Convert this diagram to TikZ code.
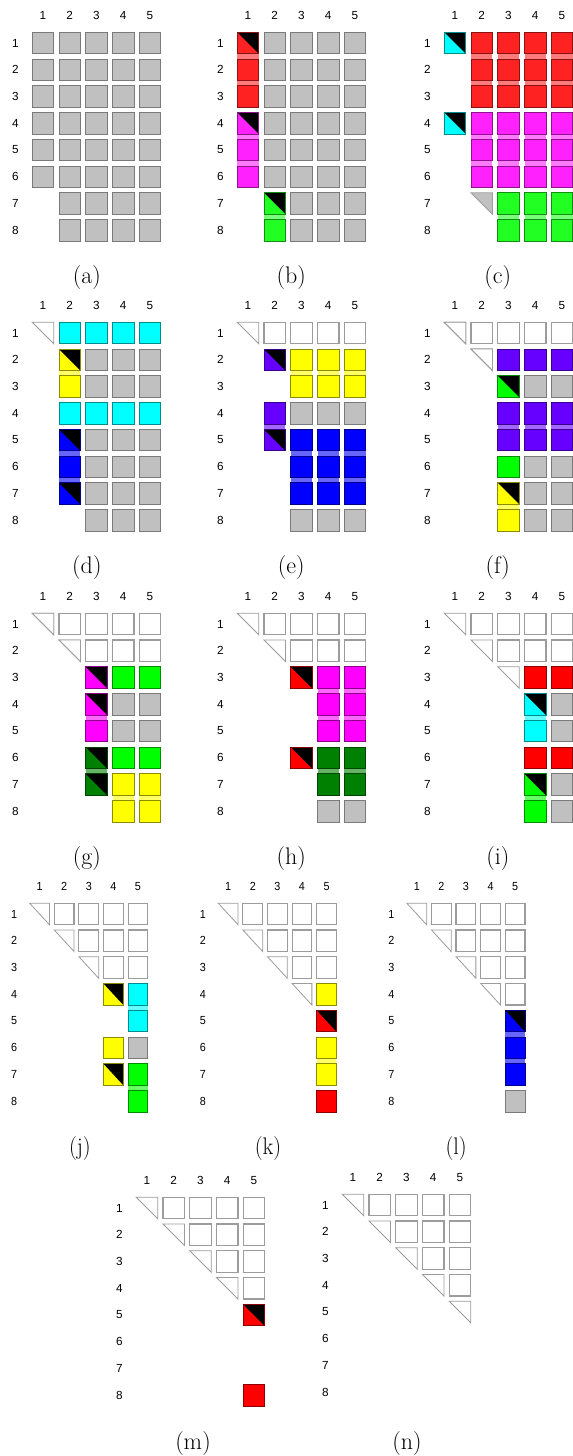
\documentclass[tikz,border=0pt]{standalone}
\usepackage{fontspec}
\newfontfamily\numfont{Liberation Sans}
\usepackage{xcolor}
\definecolor{boxgray}{HTML}{C0C0C0}
\definecolor{boxedge}{HTML}{7A7A7A}
\definecolor{emptyedge}{HTML}{9C9C9C}
\definecolor{redA}{HTML}{FF2222}
\definecolor{redB}{HTML}{FF0000}
\definecolor{magA}{HTML}{FF22FF}
\definecolor{magB}{HTML}{FF00FF}
\definecolor{greenA}{HTML}{22FF22}
\definecolor{greenB}{HTML}{00FF00}
\definecolor{cyanC}{HTML}{00FFFF}
\definecolor{yellowC}{HTML}{FFFF00}
\definecolor{blueC}{HTML}{0000FF}
\definecolor{purpleC}{HTML}{6600FF}
\definecolor{dgreen}{HTML}{008000}
\usepackage{tikz}
\tikzset{
    panel/.style n args={2}{shift={(#1+16.25,#2+16.25)}, x=20.0625pt, y=-20.0625pt},
    slot/.style={minimum size=16.125pt, inner sep=0pt, outer sep=0pt},
    graybox/.style={slot, draw=boxedge, fill=boxgray, line width=0.7pt},
    whitebox/.style={slot, draw=emptyedge, fill=white, line width=0.9pt},
    colbox/.style={slot, draw=#1!55!black, fill=#1, line width=0.7pt},
    pivot/.style={colbox=#1, path picture={\fill[black] (path picture bounding box.north west) -- (path picture bounding box.north east) -- (path picture bounding box.south east) -- cycle;}},
    triline/.style={draw=emptyedge, line width=0.6pt},
    numlab/.style={font=\numfont\fontsize{8.8}{10}\selectfont, inner sep=0pt},
    subcap/.style={font=\fontsize{18}{20}\selectfont, inner sep=0pt}
}
% joined cells of one column
\newcommand{\band}[4]{\fill[#4!60!white] ({#1-0.4},{#2-0.4}) rectangle ({#1+0.4},{#3+0.4});}
% half cell: name, col, row, fill
\newcommand{\tri}[4]{\node[slot] (#1) at (#2,#3) {};
  \filldraw[triline, fill=#4] (#1.north west) -- (#1.north east) -- (#1.south east) -- cycle;}
% column and row numbers
\newcommand{\labels}[1]{%
  \foreach \k in {1,...,5} \node[numlab] (#1-c\k) at (\k,-0.03) {\k};
  \foreach \k in {1,...,8} \node[numlab] (#1-r\k) at (-0.03,\k) {\k};}
% finished rows on top
\newcommand{\stair}[2]{%
  \foreach \ri in {1,...,#2} {
    \tri{#1-\ri-\ri}{\ri}{\ri}{white}
    \foreach \ci in {\ri,...,5} {\ifnum\ci>\ri\relax \node[whitebox] (#1-\ri-\ci) at (\ci,\ri) {};\fi}
  }}

\begin{document}
\begin{tikzpicture}[x=0.75pt, y=-0.75pt]
  \useasboundingbox (0,0) rectangle (573,1456);

  % (a)
  \begin{scope}[panel={0}{0}]
    \labels{a}
    \foreach \ri in {1,...,6} \foreach \ci in {1,...,5} \node[graybox] (a-\ri-\ci) at (\ci,\ri) {};
    \foreach \ri in {7,8} \foreach \ci in {2,...,5} \node[graybox] (a-\ri-\ci) at (\ci,\ri) {};
    \node[subcap] (cap-a) at (2.64,9.75) {(a)};
  \end{scope}

  % (b)
  \begin{scope}[panel={205}{0}]
    \labels{b}
    \band{1}{1}{3}{redA} \band{1}{4}{6}{magA} \band{2}{7}{8}{greenA}
    \node[pivot=redA] (b-1-1) at (1,1) {};
    \foreach \ri in {2,3} \node[colbox=redA] (b-\ri-1) at (1,\ri) {};
    \node[pivot=magA] (b-4-1) at (1,4) {};
    \foreach \ri in {5,6} \node[colbox=magA] (b-\ri-1) at (1,\ri) {};
    \foreach \ri in {1,...,6} \node[graybox] (b-\ri-2) at (2,\ri) {};
    \node[pivot=greenA] (b-7-2) at (2,7) {};
    \node[colbox=greenA] (b-8-2) at (2,8) {};
    \foreach \ri in {1,...,8} \foreach \ci in {3,4,5} \node[graybox] (b-\ri-\ci) at (\ci,\ri) {};
    \node[subcap] (cap-b) at (2.62,9.75) {(b)};
  \end{scope}

  % (c)
  \begin{scope}[panel={412}{0}]
    \labels{c}
    \foreach \ci in {2,...,5} {\band{\ci}{1}{3}{redA} \band{\ci}{4}{6}{magA}}
    \foreach \ci in {3,4,5} \band{\ci}{7}{8}{greenA}
    \node[pivot=cyanC] (c-1-1) at (1,1) {};
    \node[pivot=cyanC] (c-4-1) at (1,4) {};
    \foreach \ci in {2,...,5} {
      \foreach \ri in {1,2,3} \node[colbox=redA] (c-\ri-\ci) at (\ci,\ri) {};
      \foreach \ri in {4,5,6} \node[colbox=magA] (c-\ri-\ci) at (\ci,\ri) {};
    }
    \tri{c-7-2}{2}{7}{boxgray}
    \foreach \ci in {3,4,5} \foreach \ri in {7,8} \node[colbox=greenA] (c-\ri-\ci) at (\ci,\ri) {};
    \node[subcap] (cap-c) at (2.6,9.75) {(c)};
  \end{scope}

  % (d)
  \begin{scope}[panel={0}{290}]
    \labels{d}
    \band{2}{2}{3}{yellowC} \band{2}{5}{7}{blueC}
    \tri{d-1-1}{1}{1}{white}
    \foreach \ci in {2,...,5} {\node[colbox=cyanC] (d-1-\ci) at (\ci,1) {}; \node[colbox=cyanC] (d-4-\ci) at (\ci,4) {};}
    \node[pivot=yellowC] (d-2-2) at (2,2) {};
    \node[colbox=yellowC] (d-3-2) at (2,3) {};
    \node[pivot=blueC] (d-5-2) at (2,5) {};
    \node[colbox=blueC] (d-6-2) at (2,6) {};
    \node[pivot=blueC] (d-7-2) at (2,7) {};
    \foreach \ci in {3,4,5} \foreach \ri in {2,3,5,6,7,8} \node[graybox] (d-\ri-\ci) at (\ci,\ri) {};
    \node[subcap] (cap-d) at (2.64,9.75) {(d)};
  \end{scope}

  % (e)
  \begin{scope}[panel={205}{290}]
    \labels{e}
    \band{2}{4}{5}{purpleC}
    \foreach \ci in {3,4,5} {\band{\ci}{2}{3}{yellowC} \band{\ci}{5}{7}{blueC}}
    \stair{e}{1}
    \node[pivot=purpleC] (e-2-2) at (2,2) {};
    \node[colbox=purpleC] (e-4-2) at (2,4) {};
    \node[pivot=purpleC] (e-5-2) at (2,5) {};
    \foreach \ci in {3,4,5} {
      \foreach \ri in {2,3} \node[colbox=yellowC] (e-\ri-\ci) at (\ci,\ri) {};
      \foreach \ri in {4,8} \node[graybox] (e-\ri-\ci) at (\ci,\ri) {};
      \foreach \ri in {5,6,7} \node[colbox=blueC] (e-\ri-\ci) at (\ci,\ri) {};
    }
    \node[subcap] (cap-e) at (2.62,9.75) {(e)};
  \end{scope}

  % (f)
  \begin{scope}[panel={412}{290}]
    \labels{f}
    \foreach \ci in {3,4,5} \band{\ci}{4}{5}{purpleC}
    \band{3}{7}{8}{yellowC}
    \stair{f}{1}
    \tri{f-2-2}{2}{2}{white}
    \foreach \ci in {3,4,5} {
      \node[colbox=purpleC] (f-2-\ci) at (\ci,2) {};
      \foreach \ri in {4,5} \node[colbox=purpleC] (f-\ri-\ci) at (\ci,\ri) {};
    }
    \node[pivot=greenB] (f-3-3) at (3,3) {};
    \node[colbox=greenB] (f-6-3) at (3,6) {};
    \node[pivot=yellowC] (f-7-3) at (3,7) {};
    \node[colbox=yellowC] (f-8-3) at (3,8) {};
    \foreach \ci in {4,5} \foreach \ri in {3,6,7,8} \node[graybox] (f-\ri-\ci) at (\ci,\ri) {};
    \node[subcap] (cap-f) at (2.6,9.75) {(f)};
  \end{scope}

  % (g)
  \begin{scope}[panel={0}{581}]
    \labels{g}
    \band{3}{4}{5}{magB} \band{3}{6}{7}{dgreen}
    \foreach \ci in {4,5} \band{\ci}{7}{8}{yellowC}
    \stair{g}{2}
    \node[pivot=magB] (g-3-3) at (3,3) {};
    \node[pivot=magB] (g-4-3) at (3,4) {};
    \node[colbox=magB] (g-5-3) at (3,5) {};
    \node[pivot=dgreen] (g-6-3) at (3,6) {};
    \node[pivot=dgreen] (g-7-3) at (3,7) {};
    \foreach \ci in {4,5} {
      \foreach \ri in {3,6} \node[colbox=greenB] (g-\ri-\ci) at (\ci,\ri) {};
      \foreach \ri in {4,5} \node[graybox] (g-\ri-\ci) at (\ci,\ri) {};
      \foreach \ri in {7,8} \node[colbox=yellowC] (g-\ri-\ci) at (\ci,\ri) {};
    }
    \node[subcap] (cap-g) at (2.64,9.75) {(g)};
  \end{scope}

  % (h)
  \begin{scope}[panel={205}{581}]
    \labels{h}
    \foreach \ci in {4,5} {\band{\ci}{3}{5}{magB} \band{\ci}{6}{7}{dgreen}}
    \stair{h}{2}
    \node[pivot=redB] (h-3-3) at (3,3) {};
    \node[pivot=redB] (h-6-3) at (3,6) {};
    \foreach \ci in {4,5} {
      \foreach \ri in {3,4,5} \node[colbox=magB] (h-\ri-\ci) at (\ci,\ri) {};
      \foreach \ri in {6,7} \node[colbox=dgreen] (h-\ri-\ci) at (\ci,\ri) {};
      \node[graybox] (h-8-\ci) at (\ci,8) {};
    }
    \node[subcap] (cap-h) at (2.62,9.75) {(h)};
  \end{scope}

  % (i)
  \begin{scope}[panel={412}{581}]
    \labels{i}
    \band{4}{4}{5}{cyanC} \band{4}{7}{8}{greenB}
    \stair{i}{2}
    \tri{i-3-3}{3}{3}{white}
    \foreach \ci in {4,5} {\node[colbox=redB] (i-3-\ci) at (\ci,3) {}; \node[colbox=redB] (i-6-\ci) at (\ci,6) {};}
    \node[pivot=cyanC] (i-4-4) at (4,4) {};
    \node[colbox=cyanC] (i-5-4) at (4,5) {};
    \node[pivot=greenB] (i-7-4) at (4,7) {};
    \node[colbox=greenB] (i-8-4) at (4,8) {};
    \foreach \ri in {4,5,7,8} \node[graybox] (i-\ri-5) at (5,\ri) {};
    \node[subcap] (cap-i) at (2.6,9.75) {(i)};
  \end{scope}

  % fourth row, a little narrower
  \begin{scope}[xscale=0.92, transform shape]
    % (j)
    \begin{scope}[panel={0}{871}]
      \labels{j}
      \band{5}{4}{5}{cyanC} \band{5}{7}{8}{greenB}
      \stair{j}{3}
      \node[pivot=yellowC] (j-4-4) at (4,4) {};
      \node[colbox=yellowC] (j-6-4) at (4,6) {};
      \node[pivot=yellowC] (j-7-4) at (4,7) {};
      \foreach \ri in {4,5} \node[colbox=cyanC] (j-\ri-5) at (5,\ri) {};
      \node[graybox] (j-6-5) at (5,6) {};
      \foreach \ri in {7,8} \node[colbox=greenB] (j-\ri-5) at (5,\ri) {};
      \node[subcap] (cap-j) at (2.64,9.75) {(j)};
    \end{scope}
    % (k)
    \begin{scope}[panel={205}{871}]
      \labels{k}
      \band{5}{6}{7}{yellowC}
      \stair{k}{3}
      \tri{k-4-4}{4}{4}{white}
      \node[colbox=yellowC] (k-4-5) at (5,4) {};
      \node[pivot=redB] (k-5-5) at (5,5) {};
      \foreach \ri in {6,7} \node[colbox=yellowC] (k-\ri-5) at (5,\ri) {};
      \node[colbox=redB] (k-8-5) at (5,8) {};
      \node[subcap] (cap-k) at (2.62,9.75) {(k)};
    \end{scope}
    % (l)
    \begin{scope}[panel={410}{871}]
      \labels{l}
      \band{5}{5}{7}{blueC}
      \stair{l}{4}
      \node[pivot=blueC] (l-5-5) at (5,5) {};
      \foreach \ri in {6,7} \node[colbox=blueC] (l-\ri-5) at (5,\ri) {};
      \node[graybox] (l-8-5) at (5,8) {};
      \node[subcap] (cap-l) at (2.6,9.75) {(l)};
    \end{scope}
  \end{scope}

  % (m)
  \begin{scope}[panel={104}{1165}]
    \labels{m}
    \stair{m}{4}
    \node[pivot=redB] (m-5-5) at (5,5) {};
    \node[colbox=redB] (m-8-5) at (5,8) {};
    \node[subcap] (cap-m) at (2.72,9.79) {(m)};
  \end{scope}

  % (n)
  \begin{scope}[panel={310}{1162}]
    \labels{n}
    \stair{n}{5}
    \node[subcap] (cap-n) at (3.02,9.9) {(n)};
  \end{scope}
\end{tikzpicture}
\end{document}
